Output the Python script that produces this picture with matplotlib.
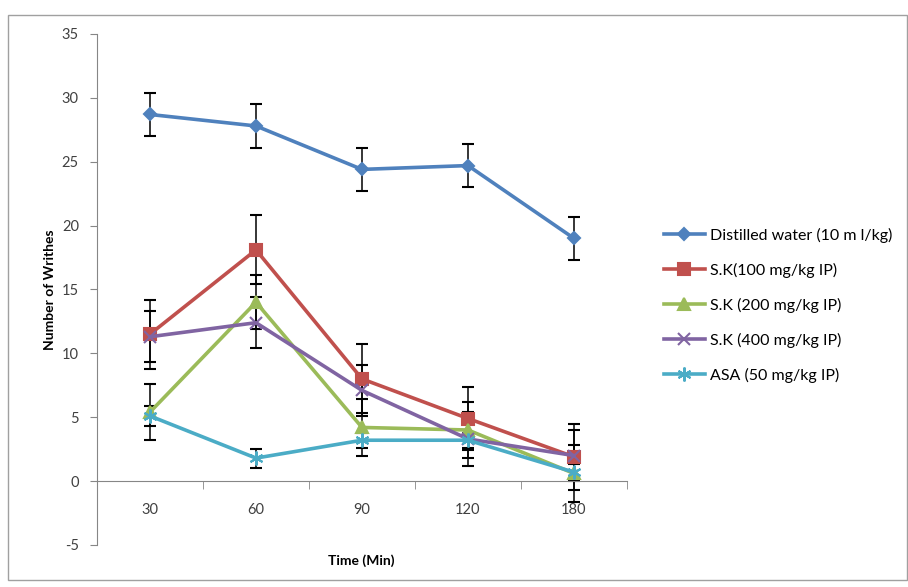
import numpy as np
import matplotlib
matplotlib.use('Agg')
import matplotlib.pyplot as plt
from matplotlib.patches import Rectangle
from matplotlib.lines import Line2D

plt.rcParams['font.family'] = ['Lato', 'DejaVu Sans']
plt.rcParams['axes.unicode_minus'] = False

# 数据
times = ['30', '60', '90', '120', '180']
series_names = ['Distilled water (10 m l/kg)', 'S.K(100 mg/kg IP)', 'S.K (200 mg/kg IP)',
                'S.K (400 mg/kg IP)', 'ASA (50 mg/kg IP)']
distilled = [28.7, 27.8, 24.4, 24.7, 19.0]
distilled_err = [1.7, 1.7, 1.7, 1.7, 1.7]
sk100 = [11.5, 18.1, 8.0, 4.9, 1.9]
sk100_err = [2.7, 2.7, 2.7, 2.5, 2.6]
sk200 = [5.4, 14.0, 4.2, 4.0, 0.6]
sk200_err = [2.2, 2.1, 2.2, 2.2, 2.2]
sk400 = [11.3, 12.4, 7.1, 3.3, 2.0]
sk400_err = [2.0, 2.0, 2.0, 2.1, 2.0]
asa = [5.1, 1.8, 3.2, 3.2, 0.7]
asa_err = [0.75, 0.75, 0.6, 0.6, 0.6]

values = [distilled, sk100, sk200, sk400, asa]
errors = [distilled_err, sk100_err, sk200_err, sk400_err, asa_err]
colors = ['#4F81BD', '#C0504D', '#9BBB59', '#8064A2', '#4BACC6']
markers = ['D', 's', '^', 'x', (6, 2, 0)]
msizes = [6, 9, 8, 9, 10]

fig = plt.figure(figsize=(9.08, 5.87), dpi=100, facecolor='white')
ax = fig.add_axes([0.1068, 0.0716, 0.5837, 0.8705])

x = np.arange(len(times)) + 0.5
handles = []
for vals, errs, c, m, ms, name in zip(values, errors, colors, markers, msizes, series_names):
    ax.errorbar(x, vals, yerr=errs, color=c, lw=2.6, marker=m, ms=ms,
                mec=c, mfc=c, mew=1.5, ecolor='black', elinewidth=1.1,
                capsize=4, capthick=1.1)
    handles.append(Line2D([], [], color=c, lw=2.6, marker=m, ms=ms, mec=c, mfc=c,
                          mew=1.5, label=name))

ax.set_xlim(0, 5)
ax.set_ylim(-5, 35)
ax.set_yticks(np.arange(-5, 36, 5))

# 坐标轴样式
for s in ['top', 'right']:
    ax.spines[s].set_visible(False)
ax.spines['bottom'].set_position(('data', 0))
ax.spines['left'].set_color('#868686')
ax.spines['bottom'].set_color('#868686')

ax.set_xticks(x)
ax.set_xticklabels(times)
ax.set_xticks(np.arange(0, 6), minor=True)
ax.tick_params(axis='x', which='major', length=0, pad=16, labelsize=10.5, labelcolor='#404040')
ax.tick_params(axis='x', which='minor', length=6, color='#868686', direction='out')
ax.tick_params(axis='y', length=5, color='#868686', labelsize=10.5, labelcolor='#404040', pad=8)

ax.set_ylabel('Number of Writhes', fontsize=10, fontweight='bold', labelpad=4)
fig.text(0.398, 0.045, 'Time (Min)', fontsize=10, fontweight='bold', ha='center', va='center')

leg = fig.legend(handles=handles, loc='upper left', bbox_to_anchor=(0.715, 0.637),
                 frameon=False, fontsize=11.5, handlelength=2.6, labelspacing=1.25,
                 handletextpad=0.3)

# 外框
fig.patches.append(Rectangle((0.009, 0.012), 0.99, 0.963, transform=fig.transFigure,
                             fill=False, edgecolor='#A0A0A0', lw=1))

plt.savefig('out.png', dpi=100, facecolor='white')
plt.close()
